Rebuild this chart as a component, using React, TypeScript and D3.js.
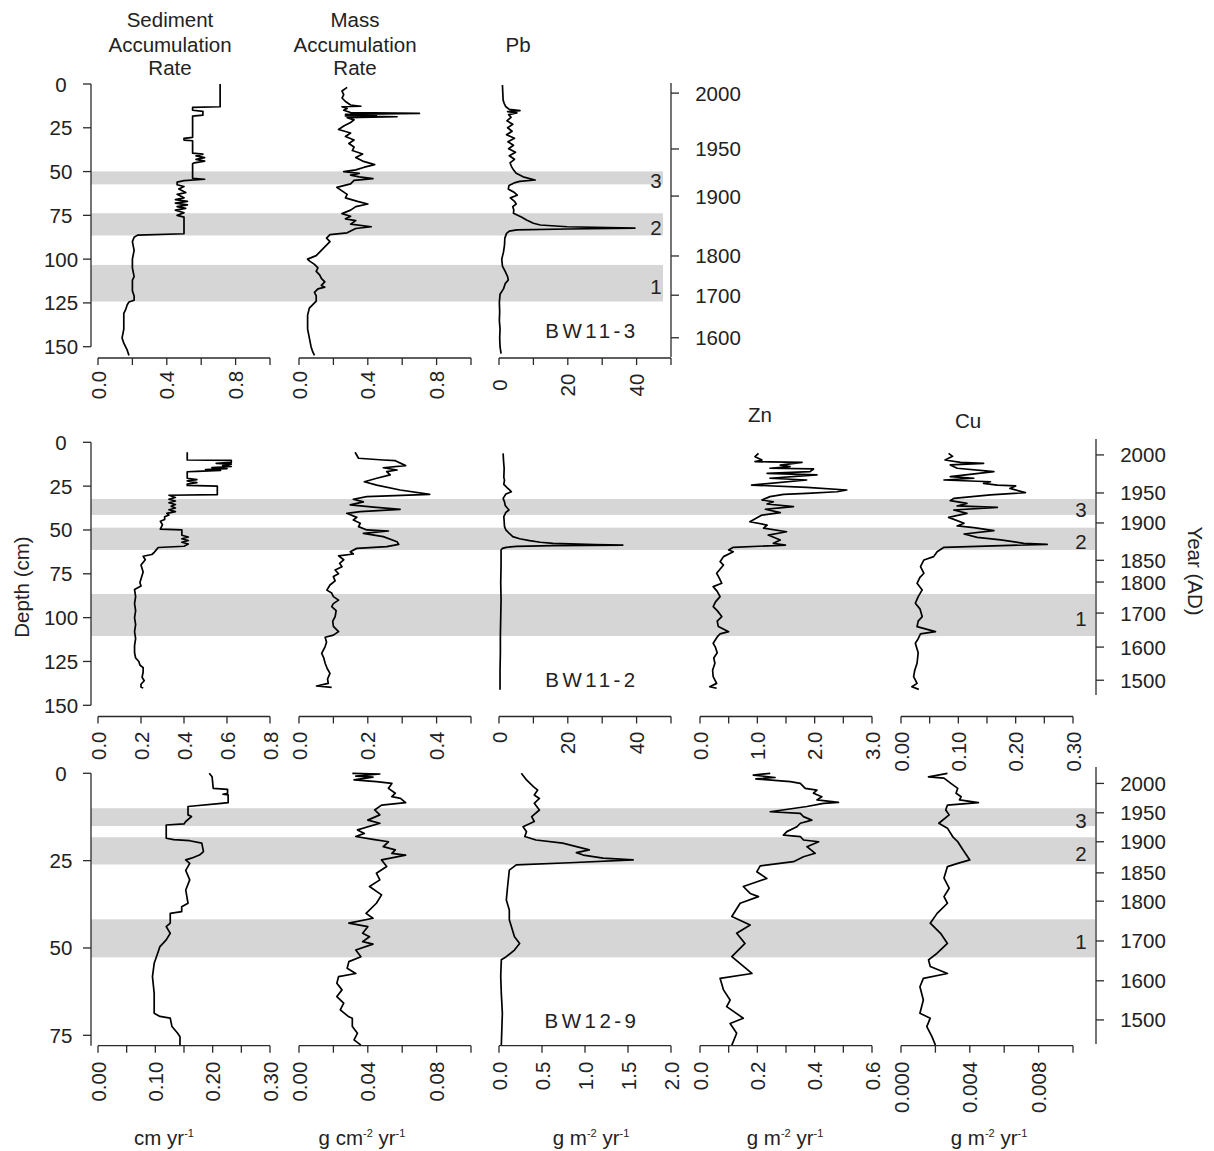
import React from "react";
import * as d3 from "d3";

type Pt = [number, number]; // [depth (cm), value]

// ---------------- BW11-3 (top) ----------------
const bw113SAR: Pt[] = [
  [0, 0.71], [13, 0.71], [13.3, 0.55], [15, 0.55], [15.6, 0.61], [17.8, 0.61], [18.3, 0.55],
  [30.5, 0.55], [31, 0.5], [32, 0.5], [32.4, 0.55], [39.5, 0.55], [40, 0.61], [41, 0.57],
  [42, 0.62], [43, 0.57], [44, 0.62], [45, 0.56], [45.5, 0.55], [53.8, 0.55], [54.4, 0.62],
  [55.2, 0.5], [56, 0.46], [57.5, 0.46], [58.5, 0.5], [60, 0.47], [62, 0.51], [63, 0.46],
  [65, 0.5], [66, 0.45], [67, 0.52], [68, 0.45], [69, 0.52], [70, 0.46], [71, 0.51],
  [72, 0.45], [73.5, 0.5], [75, 0.46], [76, 0.5], [85.5, 0.5], [86.3, 0.23], [87.5, 0.21],
  [90, 0.2], [95, 0.21], [100, 0.2], [105, 0.2], [110, 0.21], [112, 0.2], [118, 0.2],
  [121, 0.21], [123.5, 0.21], [124.5, 0.18], [126, 0.17], [129, 0.16], [131, 0.15],
  [135, 0.15], [140, 0.15], [145, 0.14], [148, 0.15], [150, 0.16], [152, 0.17], [155, 0.18],
];
const bw113MAR: Pt[] = [
  [1.9, 0.28], [4, 0.25], [6, 0.26], [8, 0.25], [10, 0.27], [12, 0.3], [12.7, 0.36], [13, 0.25],
  [14, 0.28], [15, 0.26], [16.3, 0.3], [16.8, 0.7], [17.3, 0.27], [17.8, 0.45], [18.2, 0.27],
  [18.7, 0.57], [19.2, 0.28], [20.5, 0.32], [22, 0.3], [24, 0.26], [26, 0.23], [28, 0.3],
  [30, 0.27], [32, 0.32], [34, 0.29], [36, 0.32], [38, 0.31], [40, 0.37], [42, 0.33],
  [44, 0.37], [46, 0.44], [47.5, 0.38], [49, 0.33], [50, 0.26], [51, 0.35], [52, 0.3],
  [53, 0.35], [54, 0.43], [55, 0.32], [57, 0.3], [59, 0.22], [61, 0.25], [63, 0.28],
  [65, 0.27], [67, 0.34], [68.5, 0.4], [70, 0.33], [72, 0.3], [74, 0.25], [75.5, 0.3],
  [77, 0.27], [78, 0.33], [80, 0.3], [81.5, 0.42], [82.5, 0.33], [84, 0.3], [85, 0.28],
  [86, 0.18], [88, 0.16], [90, 0.18], [92, 0.16], [94, 0.14], [96, 0.12], [98, 0.1],
  [100, 0.05], [101, 0.06], [103, 0.09], [105, 0.11], [107, 0.1], [109, 0.12], [111, 0.13],
  [113, 0.15], [115, 0.13], [116, 0.15], [117, 0.11], [119, 0.09], [121, 0.1], [124, 0.1],
  [126, 0.08], [128, 0.06], [132, 0.05], [136, 0.05], [140, 0.05], [145, 0.06], [150, 0.07],
  [153, 0.08], [155, 0.09],
];
const bw113Pb: Pt[] = [
  [0.6, 1.0], [5, 1.1], [9.2, 1.2], [11, 1.5], [13, 2.0], [14.5, 3.0], [15.2, 6.1], [15.8, 2.5],
  [16.5, 5.2], [17.5, 2.8], [19, 3.5], [21, 2.3], [23, 4.0], [25, 2.5], [27, 3.8], [29, 2.2],
  [31, 4.5], [33, 2.6], [35, 4.2], [37, 2.8], [39, 4.8], [41, 3.0], [43, 4.5], [45, 3.2],
  [47, 3.6], [49, 4.2], [51, 5.0], [53, 7.0], [54.8, 10.5], [55.6, 6.0], [56.3, 4.7],
  [58, 2.9], [60, 2.7], [62, 4.5], [63.5, 5.3], [65, 3.3], [67, 4.5], [68.5, 5.0], [70, 4.0],
  [72, 4.3], [73.8, 4.2], [76, 6.5], [77.6, 8.0], [79.5, 10], [80.5, 12], [81.5, 19.8],
  [82.3, 39.5], [82.8, 20], [83.3, 5.2], [84, 3.0], [85.3, 2.2], [88, 1.7], [92, 1.6],
  [96, 1.3], [100, 0.8], [104, 1.0], [107, 1.8], [110, 2.5], [111.9, 2.7], [114, 1.8],
  [117, 1.3], [120, 0.3], [125, 0.1], [130, 0.2], [135, 0.1], [140, 0.3], [145, 0.2],
  [150, 0.3], [154, 0.6],
];
const bw113Bands: Pt[] = [[49.9, 57.3], [73.8, 86.5], [103.3, 124.2]];
const bw113Years = [2000, 1950, 1900, 1800, 1700, 1600];
const bw113YearDepths = [5.2, 37.1, 64.0, 98.2, 120.6, 144.9];

// ---------------- BW11-2 (middle) ----------------
const bw112SAR: Pt[] = [
  [5.7, 0.415], [10.1, 0.415], [10.3, 0.62], [11.5, 0.62], [12, 0.55], [12.5, 0.62],
  [13.3, 0.58], [13.8, 0.62], [14.5, 0.53], [15, 0.6], [15.5, 0.5], [16, 0.57], [16.6, 0.46],
  [16.8, 0.415], [20.5, 0.415], [21.3, 0.46], [22, 0.415], [23, 0.46], [23.8, 0.415],
  [24.6, 0.415], [25, 0.555], [29.8, 0.555], [30.2, 0.33], [31.5, 0.36], [32.5, 0.33],
  [33.5, 0.36], [34.5, 0.33], [35.5, 0.36], [36.5, 0.34], [37.5, 0.36], [38.5, 0.33],
  [39.5, 0.36], [40.5, 0.32], [41.5, 0.33], [42.5, 0.31], [44, 0.31], [45, 0.29], [47, 0.3],
  [49.5, 0.29], [50, 0.39], [53, 0.39], [54, 0.42], [55, 0.39], [56, 0.42], [57, 0.39],
  [58, 0.42], [59.3, 0.4], [60, 0.28], [61.5, 0.27], [63, 0.26], [64, 0.25], [65, 0.21],
  [67, 0.22], [70, 0.2], [74, 0.21], [78, 0.2], [80, 0.195], [82, 0.2], [84, 0.17],
  [88, 0.175], [92, 0.17], [96, 0.175], [100, 0.17], [104, 0.175], [108, 0.17], [112, 0.175],
  [116, 0.17], [120, 0.17], [123, 0.175], [125, 0.19], [127, 0.195], [128.5, 0.21],
  [131, 0.21], [134, 0.205], [136, 0.215], [138, 0.2], [139.5, 0.2], [140.2, 0.21],
];
const bw112MAR: Pt[] = [
  [5.7, 0.163], [9.1, 0.173], [10.1, 0.245], [10.5, 0.28], [13.3, 0.31], [14.5, 0.245],
  [15.8, 0.285], [16.7, 0.255], [18.6, 0.265], [20.5, 0.226], [22.5, 0.19], [24.4, 0.226],
  [27.2, 0.294], [29.7, 0.38], [31, 0.197], [32.5, 0.158], [34, 0.187], [35.7, 0.149],
  [37, 0.217], [38.2, 0.294], [39.5, 0.178], [40.5, 0.139], [42.8, 0.168], [44.3, 0.158],
  [46.2, 0.178], [48.1, 0.173], [50, 0.197], [50.6, 0.26], [51.9, 0.187], [53.8, 0.245],
  [56.7, 0.285], [58.2, 0.29], [59.5, 0.255], [60.5, 0.168], [62.4, 0.149], [63.7, 0.158],
  [64.8, 0.115], [67, 0.13], [69, 0.118], [71, 0.125], [72.8, 0.105], [75, 0.115],
  [76.6, 0.1], [79, 0.105], [81.4, 0.09], [84.3, 0.081], [86, 0.095], [88, 0.1], [90, 0.115],
  [92, 0.1], [93.7, 0.095], [96, 0.108], [99.5, 0.105], [102, 0.098], [105, 0.1], [108, 0.115],
  [110, 0.1], [111.2, 0.076], [114, 0.08], [116.5, 0.076], [120.4, 0.066], [123, 0.072],
  [126, 0.076], [129, 0.082], [131.8, 0.09], [135, 0.083], [137.5, 0.085], [139, 0.051],
  [139.8, 0.095],
];
const bw112Pb: Pt[] = [
  [6.3, 1.2], [10, 1.3], [15, 1.5], [20, 1.4], [21.5, 1.6], [24, 1.4], [26, 2.4], [27, 3.0],
  [28.2, 3.6], [29.5, 2.0], [32, 1.2], [34, 1.6], [36, 1.8], [37.5, 2.4], [38.6, 2.9],
  [40, 2.0], [42.4, 1.4], [45, 1.5], [48.1, 1.6], [50, 2.0], [52, 3.0], [53.8, 4.0],
  [55, 6.0], [56.1, 8.9], [57, 12], [57.6, 15.7], [58.3, 28], [58.6, 36.0], [58.9, 15.7],
  [59.4, 5], [59.9, 2.1], [60.5, 1.0], [61.4, 0.6], [70, 0.6], [80, 0.5], [90, 0.6],
  [100, 0.5], [110, 0.4], [120, 0.4], [130, 0.3], [141.2, 0.3],
];
const bw112Zn: Pt[] = [
  [6.3, 1.02], [8.2, 0.96], [10.1, 1.08], [11, 0.96], [11.2, 1.22], [11.4, 1.78], [13, 1.4],
  [13.9, 1.57], [14.8, 1.22], [15.2, 1.98], [16.7, 1.92], [17.7, 1.17], [18.6, 2.04],
  [20.5, 1.22], [21.5, 1.86], [24.4, 0.9], [25.7, 1.86], [27.2, 2.56], [28.2, 2.39],
  [29.1, 1.86], [29.7, 1.46], [31, 1.22], [32.9, 1.08], [33.9, 1.28], [35.2, 1.17],
  [36.7, 1.63], [38.2, 1.14], [40.1, 1.4], [41.5, 1.08], [45.3, 0.87], [47.2, 1.17],
  [49, 1.11], [51, 1.51], [52.9, 1.19], [55.7, 1.4], [57.6, 1.28], [58.6, 1.49],
  [59.9, 0.58], [61.4, 0.5], [62.4, 0.58], [65.2, 0.41], [68.1, 0.35], [70, 0.41],
  [74.7, 0.29], [77, 0.33], [80.4, 0.38], [82.3, 0.23], [85, 0.3], [88, 0.35], [91, 0.27],
  [93.7, 0.23], [96, 0.3], [99.4, 0.38], [102, 0.3], [105.1, 0.32], [108, 0.5], [109.3, 0.35],
  [111, 0.3], [114.6, 0.23], [117, 0.27], [120, 0.3], [123, 0.24], [126, 0.26], [130, 0.22],
  [133.7, 0.23], [137.5, 0.29], [139.4, 0.17], [140.3, 0.29],
];
const bw112Cu: Pt[] = [
  [6.3, 0.083], [8, 0.09], [10.1, 0.077], [11.4, 0.104], [12, 0.144], [12.9, 0.086],
  [14.8, 0.098], [16.7, 0.162], [19.6, 0.086], [20.5, 0.127], [21.5, 0.075], [22.5, 0.156],
  [23.4, 0.144], [24.4, 0.168], [24.9, 0.2], [26.3, 0.19], [28.7, 0.217], [30, 0.156],
  [32, 0.092], [33.3, 0.086], [34.8, 0.115], [36.3, 0.098], [37.1, 0.168], [38.6, 0.092],
  [40.5, 0.115], [42.8, 0.083], [46.2, 0.11], [47.7, 0.098], [48.7, 0.127], [50.4, 0.162],
  [52.3, 0.11], [54.2, 0.133], [55.7, 0.174], [57.6, 0.214], [58.2, 0.255], [59.9, 0.075],
  [62.4, 0.063], [65.2, 0.057], [67.1, 0.04], [70.9, 0.034], [74.7, 0.04], [77, 0.033],
  [80.4, 0.028], [84.2, 0.037], [88, 0.03], [91.8, 0.025], [95, 0.033], [99.4, 0.037],
  [102, 0.03], [105.1, 0.028], [108, 0.06], [109.3, 0.034], [112, 0.03], [114.6, 0.025],
  [120, 0.03], [126, 0.028], [130, 0.024], [133.7, 0.022], [137.5, 0.028], [139.4, 0.019],
  [140.9, 0.031],
];
const bw112Bands: Pt[] = [[32.3, 41.4], [48.7, 61.4], [86.5, 110.5]];
const bw112Years = [2000, 1950, 1900, 1850, 1800, 1700, 1600, 1500];
const bw112YearDepths = [7.2, 28.9, 46.0, 67.3, 79.7, 97.4, 116.8, 135.7];

// ---------------- BW12-9 (bottom) ----------------
const bw129SAR: Pt[] = [
  [0, 0.194], [1, 0.199], [4.3, 0.201], [4.6, 0.226], [5.7, 0.226], [6, 0.218], [6.2, 0.227],
  [8.4, 0.227], [8.6, 0.215], [9.5, 0.157], [11.9, 0.157], [12.4, 0.163], [13.8, 0.153],
  [14.5, 0.15], [14.8, 0.119], [18.6, 0.119], [19, 0.132], [19.3, 0.16], [20, 0.181],
  [22.4, 0.184], [23.4, 0.177], [24.3, 0.163], [24.8, 0.153], [25.8, 0.16], [27.8, 0.153],
  [30.5, 0.16], [33.4, 0.153], [37.2, 0.157], [38.2, 0.146], [39.6, 0.146], [40.1, 0.126],
  [42.9, 0.126], [43.9, 0.119], [45.8, 0.126], [47.7, 0.119], [49.6, 0.108], [51.1, 0.105],
  [54.4, 0.098], [58.2, 0.095], [63, 0.098], [68.7, 0.098], [69.6, 0.108], [70.1, 0.126],
  [72.5, 0.129], [74.4, 0.139], [75.4, 0.143], [77.8, 0.143],
];
const bw129MAR: Pt[] = [
  [0, 0.031], [0.2, 0.047], [0.8, 0.033], [1.1, 0.043], [1.9, 0.032], [2.4, 0.045],
  [2.9, 0.054], [4.3, 0.052], [5.7, 0.056], [6.7, 0.054], [7.2, 0.059], [8.4, 0.062],
  [9.1, 0.048], [10.5, 0.044], [11.9, 0.047], [13.4, 0.04], [14.3, 0.047], [16.2, 0.034],
  [17.2, 0.038], [18.1, 0.033], [18.9, 0.043], [19.6, 0.052], [21, 0.049], [21.9, 0.056],
  [22.9, 0.054], [23.4, 0.062], [24.8, 0.048], [26.7, 0.051], [28.6, 0.045], [30.5, 0.047],
  [32.4, 0.041], [34.8, 0.048], [37.2, 0.045], [40.1, 0.039], [41.5, 0.043], [42.9, 0.029],
  [43.9, 0.04], [45.8, 0.037], [46.8, 0.041], [48.2, 0.037], [48.9, 0.043], [50.6, 0.033],
  [52.5, 0.036], [53.9, 0.029], [55.8, 0.028], [57.3, 0.033], [58.2, 0.023], [60.1, 0.022],
  [62, 0.025], [63.9, 0.022], [65.8, 0.026], [67.7, 0.024], [69.7, 0.029], [70.1, 0.031],
  [72.5, 0.031], [74.4, 0.034], [76.3, 0.032], [77.8, 0.036],
];
const bw129Pb: Pt[] = [
  [0, 0.26], [1.9, 0.32], [3.8, 0.4], [4.8, 0.45], [6.2, 0.41], [7.2, 0.47], [8.6, 0.41],
  [10.5, 0.47], [12.4, 0.38], [13.8, 0.41], [15.3, 0.28], [16.7, 0.32], [18.1, 0.3],
  [19.1, 0.43], [20, 0.74], [21.9, 1.05], [22.7, 0.9], [23.4, 0.98], [24.3, 1.21],
  [24.8, 1.56], [25.6, 0.82], [26.2, 0.2], [27.7, 0.12], [32.4, 0.1], [36.3, 0.085],
  [39.1, 0.12], [41.9, 0.12], [46.8, 0.18], [48.7, 0.24], [50.6, 0.18], [52.5, 0.085],
  [53.4, 0.027], [58.2, 0.02], [63, 0.027], [68.7, 0.039], [77.8, 0.027],
];
const bw129Zn: Pt[] = [
  [0, 0.245], [0.5, 0.186], [1.2, 0.262], [1.6, 0.195], [2.4, 0.315], [2.9, 0.35],
  [4.3, 0.367], [4.8, 0.408], [5.7, 0.396], [6.7, 0.425], [7.6, 0.408], [8.3, 0.483],
  [8.6, 0.431], [9.5, 0.373], [11, 0.245], [11.5, 0.35], [12.4, 0.361], [13.4, 0.39],
  [14.3, 0.35], [15.3, 0.338], [16.7, 0.303], [17.7, 0.291], [18.1, 0.35], [19.1, 0.361],
  [19.6, 0.414], [21, 0.373], [22.9, 0.402], [23.9, 0.361], [25.3, 0.326], [26.5, 0.21],
  [28.2, 0.198], [30.1, 0.233], [32.4, 0.151], [34.4, 0.175], [35.3, 0.204], [37.2, 0.14],
  [41, 0.111], [43.4, 0.175], [45.8, 0.128], [48.7, 0.157], [52.5, 0.111], [57.3, 0.181],
  [58.7, 0.07], [62, 0.082], [64.9, 0.105], [66.8, 0.093], [70.1, 0.151], [71.6, 0.105],
  [74.4, 0.128], [77.8, 0.111],
];
const bw129Cu: Pt[] = [
  [0, 0.0027], [1, 0.0016], [1.4, 0.0025], [2.9, 0.0029], [4.3, 0.0033], [5.7, 0.0032],
  [6.7, 0.0035], [7.6, 0.0034], [8.4, 0.0045], [9.1, 0.0027], [10.5, 0.0026], [11.9, 0.0028],
  [14.3, 0.0022], [15.7, 0.0027], [18.1, 0.003], [19.6, 0.0033], [21.9, 0.0036],
  [24.8, 0.004], [25.8, 0.0033], [26.7, 0.0027], [30, 0.0025], [32.9, 0.0028],
  [35.3, 0.0025], [37.2, 0.0027], [40.1, 0.0021], [42.9, 0.0017], [45.8, 0.0023],
  [48.7, 0.0027], [51.5, 0.0021], [53.4, 0.0016], [55.3, 0.0017], [57.3, 0.0027],
  [58.7, 0.0013], [61.1, 0.0011], [64.9, 0.0013], [68.7, 0.0011], [70.1, 0.0017],
  [72.5, 0.0015], [75.4, 0.0018], [77.8, 0.002],
];
const bw129Bands: Pt[] = [[10.0, 15.1], [18.3, 26.1], [41.8, 52.7]];
const bw129Years = [2000, 1950, 1900, 1850, 1800, 1700, 1600, 1500];
const bw129YearDepths = [2.9, 11.3, 19.6, 28.5, 36.6, 48.0, 59.4, 70.6];

// ---------------- axis ticks ----------------
const depthTicks150 = [0, 25, 50, 75, 100, 125, 150];
const depthTicks75 = [0, 25, 50, 75];
const bandNames = ["3", "2", "1"];

const bw113SARTicks = [0, 0.2, 0.4, 0.6, 0.8, 1.0];
const bw113SARLabels = ["0.0", "0.4", "0.8"];
const bw113PbTicks = [0, 10, 20, 30, 40, 50];
const bw113PbLabels = ["0", "20", "40"];

const bw112SARTicks = [0, 0.2, 0.4, 0.6, 0.8];
const bw112SARLabels = ["0.0", "0.2", "0.4", "0.6", "0.8"];
const bw112MARTicks = [0, 0.1, 0.2, 0.3, 0.4, 0.5];
const bw112MARLabels = ["0.0", "0.2", "0.4"];
const bw112ZnTicks = [0, 0.5, 1.0, 1.5, 2.0, 2.5, 3.0];
const bw112ZnLabels = ["0.0", "1.0", "2.0", "3.0"];
const bw112CuTicks = [0, 0.05, 0.1, 0.15, 0.2, 0.25, 0.3];
const bw112CuLabels = ["0.00", "0.10", "0.20", "0.30"];

const bw129SARTicks = [0, 0.05, 0.1, 0.15, 0.2, 0.25, 0.3];
const bw129SARLabels = ["0.00", "0.10", "0.20", "0.30"];
const bw129MARTicks = [0, 0.02, 0.04, 0.06, 0.08, 0.1];
const bw129MARLabels = ["0.00", "0.04", "0.08"];
const bw129PbTicks = [0, 0.5, 1.0, 1.5, 2.0];
const bw129PbLabels = ["0.0", "0.5", "1.0", "1.5", "2.0"];
const bw129ZnTicks = [0, 0.1, 0.2, 0.3, 0.4, 0.5, 0.6];
const bw129ZnLabels = ["0.0", "0.2", "0.4", "0.6"];
const bw129CuTicks = [0, 0.002, 0.004, 0.006, 0.008, 0.01];
const bw129CuLabels = ["0.000", "0.004", "0.008"];

// ---------------- layout ----------------
const W = 1214;
const H = 1151;
const FONT = "'Liberation Sans', Arial, Helvetica, sans-serif";
const FS = 20.5;
const COL_X = [98, 299, 499, 700, 901];
const COL_W = 172;
const DEPTH_X = 91;
const AXIS_COLOR = "#2a2a2a";
const BAND_COLOR = "#d6d6d6";

interface Column {
  data: Pt[];
  max: number;
  ticks: number[];
  labels: string[];
}

interface PanelProps {
  core: string;
  columns: Column[];
  bands: Pt[];
  years: number[];
  yearDepths: number[];
  depthTicks: number[];
  depthMax: number;
  axisEnd: number;
  top: number;
  bottom: number;
  xAxisY: number;
  yearX: number;
  yearTop: number;
  yearBottom: number;
  bandRight: number;
  coreY: number;
  labelAnchor: "middle" | "end";
  labelOffset: number;
}

const Panel = (p: PanelProps) => {
  const y = d3.scaleLinear().domain([0, p.depthMax]).range([p.top, p.bottom]);

  return (
    <g>
      {/* grey event bands */}
      {p.bands.map((b, i) => (
        <rect
          key={`band${i}`}
          x={DEPTH_X}
          y={y(b[0])}
          width={p.bandRight - DEPTH_X}
          height={y(b[1]) - y(b[0])}
          fill={BAND_COLOR}
        />
      ))}

      {/* profiles + bottom axes */}
      {p.columns.map((c, i) => {
        const x = d3
          .scaleLinear()
          .domain([0, c.max])
          .range([COL_X[i], COL_X[i] + COL_W]);
        const line = d3
          .line<Pt>()
          .x((d) => x(d[1]))
          .y((d) => y(d[0]));
        return (
          <g key={`col${i}`}>
            <path
              d={line(c.data) ?? ""}
              fill="none"
              stroke="#000"
              strokeWidth={1.7}
              strokeLinejoin="round"
            />
            <line
              x1={x(0)}
              x2={x(c.max)}
              y1={p.xAxisY}
              y2={p.xAxisY}
              stroke={AXIS_COLOR}
              strokeWidth={1.3}
            />
            {c.ticks.map((t) => (
              <line
                key={`t${t}`}
                x1={x(t)}
                x2={x(t)}
                y1={p.xAxisY}
                y2={p.xAxisY + 7}
                stroke={AXIS_COLOR}
                strokeWidth={1.3}
              />
            ))}
            {c.labels.map((l) => (
              <text
                key={`l${l}`}
                transform={`translate(${x(+l)},${p.xAxisY + p.labelOffset}) rotate(-90)`}
                textAnchor={p.labelAnchor}
                dominantBaseline="central"
                fontSize={FS}
                fill="#222"
              >
                {l}
              </text>
            ))}
          </g>
        );
      })}

      {/* depth axis */}
      <line
        x1={DEPTH_X}
        x2={DEPTH_X}
        y1={y(0)}
        y2={y(p.axisEnd)}
        stroke={AXIS_COLOR}
        strokeWidth={1.3}
      />
      {p.depthTicks.map((t) => (
        <g key={`d${t}`}>
          <line
            x1={DEPTH_X - 8}
            x2={DEPTH_X}
            y1={y(t)}
            y2={y(t)}
            stroke={AXIS_COLOR}
            strokeWidth={1.3}
          />
          <text
            x={61}
            y={y(t)}
            textAnchor="middle"
            dominantBaseline="central"
            fontSize={FS}
            fill="#222"
          >
            {t}
          </text>
        </g>
      ))}

      {/* year axis */}
      <line
        x1={p.yearX}
        x2={p.yearX}
        y1={p.yearTop}
        y2={p.yearBottom}
        stroke={AXIS_COLOR}
        strokeWidth={1.3}
      />
      {p.years.map((yr, i) => (
        <g key={`y${yr}`}>
          <line
            x1={p.yearX}
            x2={p.yearX + 8}
            y1={y(p.yearDepths[i])}
            y2={y(p.yearDepths[i])}
            stroke={AXIS_COLOR}
            strokeWidth={1.3}
          />
          <text
            x={p.yearX + 47}
            y={y(p.yearDepths[i])}
            textAnchor="middle"
            dominantBaseline="central"
            fontSize={FS}
            fill="#222"
          >
            {yr}
          </text>
        </g>
      ))}

      {/* band numbers */}
      {p.bands.map((b, i) => (
        <text
          key={`bn${i}`}
          x={p.yearX - 15}
          y={(y(b[0]) + y(b[1])) / 2 + 3}
          textAnchor="middle"
          dominantBaseline="central"
          fontSize={FS}
          fill="#222"
        >
          {bandNames[i]}
        </text>
      ))}

      {/* core name */}
      <text
        x={592}
        y={p.coreY}
        textAnchor="middle"
        fontSize={FS}
        letterSpacing={3.5}
        fill="#222"
      >
        {p.core}
      </text>
    </g>
  );
};

const Unit = ({ x, parts }: { x: number; parts: [string, string][] }) => (
  <text x={x} y={1145} textAnchor="middle" fontSize={FS} fill="#222">
    {parts.map(([base, sup], i) => (
      <React.Fragment key={i}>
        <tspan dy={i === 0 ? 0 : 8}>{base}</tspan>
        {sup && (
          <tspan dy={-8} fontSize={11}>
            {sup}
          </tspan>
        )}
      </React.Fragment>
    ))}
  </text>
);

const App = () => {
  const top: Column[] = [
    { data: bw113SAR, max: 1.0, ticks: bw113SARTicks, labels: bw113SARLabels },
    { data: bw113MAR, max: 1.0, ticks: bw113SARTicks, labels: bw113SARLabels },
    { data: bw113Pb, max: 50, ticks: bw113PbTicks, labels: bw113PbLabels },
  ];
  const mid: Column[] = [
    { data: bw112SAR, max: 0.8, ticks: bw112SARTicks, labels: bw112SARLabels },
    { data: bw112MAR, max: 0.5, ticks: bw112MARTicks, labels: bw112MARLabels },
    { data: bw112Pb, max: 50, ticks: bw113PbTicks, labels: bw113PbLabels },
    { data: bw112Zn, max: 3.0, ticks: bw112ZnTicks, labels: bw112ZnLabels },
    { data: bw112Cu, max: 0.3, ticks: bw112CuTicks, labels: bw112CuLabels },
  ];
  const bot: Column[] = [
    { data: bw129SAR, max: 0.3, ticks: bw129SARTicks, labels: bw129SARLabels },
    { data: bw129MAR, max: 0.1, ticks: bw129MARTicks, labels: bw129MARLabels },
    { data: bw129Pb, max: 2.0, ticks: bw129PbTicks, labels: bw129PbLabels },
    { data: bw129Zn, max: 0.6, ticks: bw129ZnTicks, labels: bw129ZnLabels },
    { data: bw129Cu, max: 0.01, ticks: bw129CuTicks, labels: bw129CuLabels },
  ];

  return (
    <svg
      width={W}
      height={H}
      viewBox={`0 0 ${W} ${H}`}
      style={{ position: "absolute", left: 0, top: 0, background: "#fff" }}
      fontFamily={FONT}
    >
      {/* column titles */}
      <g fontSize={FS} fill="#222" textAnchor="middle">
        <text x={170} y={27}>Sediment</text>
        <text x={170} y={51.5}>Accumulation</text>
        <text x={170} y={75}>Rate</text>
        <text x={355} y={27}>Mass</text>
        <text x={355} y={51.5}>Accumulation</text>
        <text x={355} y={75}>Rate</text>
        <text x={518} y={51.5}>Pb</text>
        <text x={760} y={421.5}>Zn</text>
        <text x={968} y={428}>Cu</text>
      </g>

      <Panel
        core="BW11-3"
        columns={top}
        bands={bw113Bands}
        years={bw113Years}
        yearDepths={bw113YearDepths}
        depthTicks={depthTicks150}
        depthMax={150}
        axisEnd={150}
        top={84}
        bottom={346.7}
        xAxisY={358}
        yearX={671}
        yearTop={83}
        yearBottom={357}
        bandRight={663}
        coreY={338}
        labelAnchor="middle"
        labelOffset={27}
      />
      <Panel
        core="BW11-2"
        columns={mid}
        bands={bw112Bands}
        years={bw112Years}
        yearDepths={bw112YearDepths}
        depthTicks={depthTicks150}
        depthMax={150}
        axisEnd={150}
        top={442.3}
        bottom={705.3}
        xAxisY={716.5}
        yearX={1096}
        yearTop={439}
        yearBottom={695}
        bandRight={1095}
        coreY={687}
        labelAnchor="end"
        labelOffset={15}
      />
      <Panel
        core="BW12-9"
        columns={bot}
        bands={bw129Bands}
        years={bw129Years}
        yearDepths={bw129YearDepths}
        depthTicks={depthTicks75}
        depthMax={75}
        axisEnd={78}
        top={773.3}
        bottom={1035.3}
        xAxisY={1045.7}
        yearX={1096}
        yearTop={767}
        yearBottom={1044}
        bandRight={1095}
        coreY={1027.5}
        labelAnchor="end"
        labelOffset={16}
      />

      {/* axis titles */}
      <text
        transform="translate(29,587) rotate(-90)"
        textAnchor="middle"
        fontSize={FS}
        fill="#222"
      >
        Depth (cm)
      </text>
      <text
        transform="translate(1188,571) rotate(90)"
        textAnchor="middle"
        fontSize={FS}
        fill="#222"
      >
        Year (AD)
      </text>

      {/* units */}
      <Unit x={164} parts={[["cm yr", "-1"]]} />
      <Unit x={362} parts={[["g cm", "-2"], [" yr", "-1"]]} />
      <Unit x={591} parts={[["g m", "-2"], [" yr", "-1"]]} />
      <Unit x={785} parts={[["g m", "-2"], [" yr", "-1"]]} />
      <Unit x={989} parts={[["g m", "-2"], [" yr", "-1"]]} />
    </svg>
  );
};

export default App;
